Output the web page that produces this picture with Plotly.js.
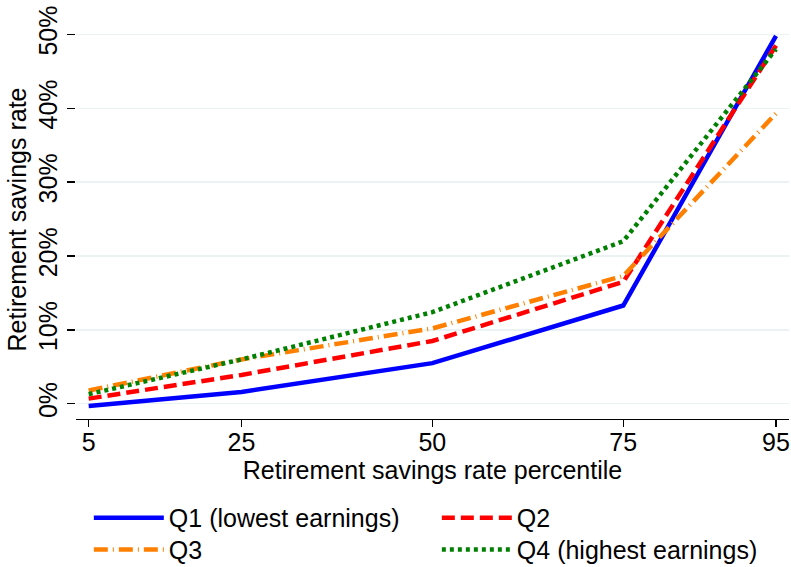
<!DOCTYPE html>
<html>
<head>
<meta charset="utf-8">
<script src="https://cdn.plot.ly/plotly-3.0.1.min.js"></script>
<style>html,body{margin:0;padding:0;background:#fff;}#chart{width:791px;height:567px;}</style>
</head>
<body>
<div id="chart"></div>
<script>
// Percentiles of the retirement savings rate distribution
const percentiles = [5, 25, 50, 75, 95];
// Savings rate (%) by earnings quartile
const q1 = [-0.3, 1.6, 5.5, 13.3, 49.8];
const q2 = [0.7, 3.9, 8.5, 16.5, 48.5];
const q3 = [1.8, 6.0, 10.2, 17.3, 39.3];
const q4 = [1.3, 6.0, 12.4, 22.0, 48.0];
const seriesNames = ['Q1 (lowest earnings)', 'Q2', 'Q3', 'Q4 (highest earnings)'];
const xTicks = [5, 25, 50, 75, 95];
const yTicks = [0, 10, 20, 30, 40, 50];
const yTickLabels = ['0%', '10%', '20%', '30%', '40%', '50%'];

const font = 'Liberation Sans, Arial, Helvetica, sans-serif';
const FS = 25;
const traces = [
  {x: percentiles, y: q1, name: seriesNames[0], legend: 'legend', mode: 'lines', line: {color: '#0000ff', width: 4.5, dash: 'solid'}},
  {x: percentiles, y: q2, name: seriesNames[1], legend: 'legend', mode: 'lines', line: {color: '#ff0000', width: 4.5, dash: '13px,6px'}},
  {x: percentiles, y: q3, name: seriesNames[2], legend: 'legend2', mode: 'lines', line: {color: '#ff8000', width: 4.5, dash: '14px,5px,1px,5px'}},
  {x: percentiles, y: q4, name: seriesNames[3], legend: 'legend2', mode: 'lines', line: {color: '#008000', width: 4.5, dash: '4px,4px'}}
];
const legendBase = {orientation: 'h', x: 0.018, xanchor: 'left', yanchor: 'middle',
  entrywidth: 263, entrywidthmode: 'pixels', itemwidth: 70, tracegroupgap: 0,
  bgcolor: 'rgba(0,0,0,0)', font: {family: font, size: FS}};
const layout = {
  width: 791, height: 567,
  margin: {l: 76, r: 2, t: 20, b: 148, autoexpand: false},
  paper_bgcolor: '#ffffff', plot_bgcolor: '#ffffff',
  font: {family: font, size: FS, color: '#000'},
  showlegend: true,
  legend: Object.assign({}, legendBase, {y: -0.248}),
  legend2: Object.assign({}, legendBase, {y: -0.328}),
  xaxis: {range: [3.34, 96.7], tickvals: xTicks, ticktext: xTicks.map(String),
    ticks: 'outside', ticklen: 7, tickwidth: 1.3, tickcolor: '#000', ticklabeloverflow: 'allow',
    ticklabelstandoff: -6,
    showline: true, linecolor: '#000', linewidth: 1.3, showgrid: false, zeroline: false,
    tickfont: {size: FS}, automargin: false,
    title: {text: 'Retirement savings rate percentile', font: {size: FS}, standoff: 0}},
  yaxis: {range: [-2.06, 51.94], tickvals: yTicks, ticktext: yTickLabels,
    ticks: 'outside', ticklen: 8, tickwidth: 1.3, tickcolor: '#000', tickangle: -90,
    showline: false, showgrid: true, gridcolor: '#eaf2f3', gridwidth: 1.3, zeroline: false,
    tickfont: {size: FS}, automargin: false,
    title: {text: 'Retirement savings rate', font: {size: FS}, standoff: 0}}
};
Plotly.newPlot('chart', traces, layout, {displayModeBar: false, staticPlot: true});
</script>
</body>
</html>
